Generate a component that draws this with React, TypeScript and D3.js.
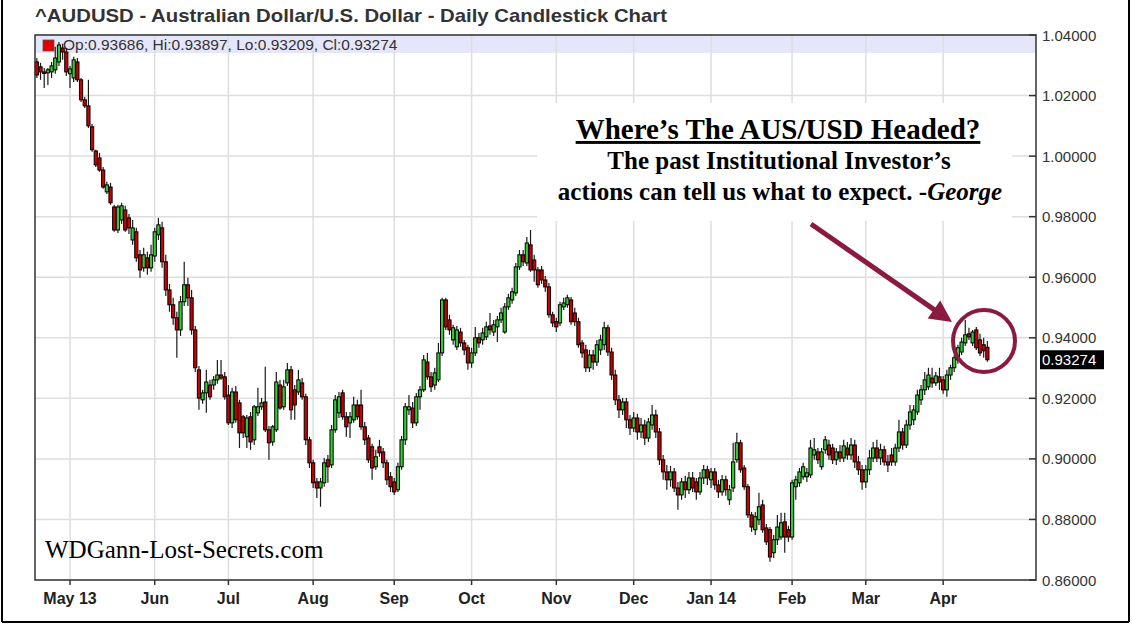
import React from "react";
import * as d3 from "d3";

const chartTitle = "^AUDUSD - Australian Dollar/U.S. Dollar - Daily Candlestick Chart";
const startDate = [2013, 3, 18]; // first trading day shown (UTC y, m0, d)
const holidays = ["2013-12-25", "2014-01-01"];
const yTicks = [0.86, 0.88, 0.9, 0.92, 0.94, 0.96, 0.98, 1.0, 1.02, 1.04];
const noteTitle = "Where’s The AUS/USD Headed?";
const noteLine2 = "The past Institutional Investor’s";
const noteLine3a = "actions can tell us what to expect. -";
const noteLine3b = "George";
const watermark = "WDGann-Lost-Secrets.com";

// [open, high, low, close]
const ohlc: [number, number, number, number][] = [
  [1.0311,1.0324,1.0258,1.0268],[1.0295,1.0308,1.0252,1.0278],[1.0278,1.0291,1.0225,1.0275],
  [1.0275,1.0291,1.0235,1.0285],[1.0278,1.0311,1.0258,1.0298],[1.0285,1.0361,1.0272,1.0324],
  [1.0311,1.0377,1.0298,1.0367],[1.0357,1.0371,1.0318,1.0344],[1.0344,1.0357,1.0265,1.0278],
  [1.0272,1.0298,1.0225,1.0288],[1.0258,1.0328,1.0245,1.0318],[1.0311,1.0324,1.0245,1.0252],
  [1.0252,1.0258,1.0179,1.0186],[1.0186,1.0196,1.0159,1.0166],[1.0166,1.0252,1.0093,1.0100],
  [1.0097,1.0106,1.0014,1.0021],[1.0017,1.0021,0.9964,0.9971],[0.9994,1.0011,0.9948,0.9954],
  [0.9954,0.9964,0.9892,0.9898],[0.9882,0.9915,0.9875,0.9905],[0.9898,0.9912,0.9839,0.9846],
  [0.9832,0.9839,0.9750,0.9756],[0.9756,0.9839,0.9746,0.9832],[0.9789,0.9846,0.9776,0.9836],
  [0.9822,0.9836,0.9750,0.9756],[0.9796,0.9809,0.9743,0.9763],
  [0.9723,0.9789,0.9707,0.9763],[0.9750,0.9763,0.9651,0.9664],[0.9674,0.9690,0.9598,0.9624],
  [0.9631,0.9697,0.9618,0.9674],[0.9664,0.9684,0.9608,0.9631],[0.9631,0.9707,0.9618,0.9674],
  [0.9670,0.9763,0.9651,0.9750],[0.9740,0.9796,0.9723,0.9773],[0.9763,0.9783,0.9631,0.9651],
  [0.9651,0.9674,0.9538,0.9558],[0.9558,0.9578,0.9486,0.9509],[0.9509,0.9532,0.9443,0.9466],
  [0.9466,0.9486,0.9334,0.9426],[0.9426,0.9538,0.9406,0.9519],[0.9519,0.9651,0.9505,0.9575],
  [0.9575,0.9598,0.9505,0.9532],[0.9532,0.9558,0.9410,0.9426],[0.9426,0.9439,0.9287,0.9301],
  [0.9294,0.9307,0.9162,0.9201],[0.9195,0.9228,0.9182,0.9218],[0.9218,0.9294,0.9152,0.9254],
  [0.9244,0.9261,0.9195,0.9205],[0.9244,0.9274,0.9228,0.9261],[0.9261,0.9327,0.9248,0.9277],
  [0.9277,0.9327,0.9261,0.9267],[0.9271,0.9287,0.9195,0.9205],[0.9211,0.9244,0.9112,0.9119],
  [0.9119,0.9235,0.9102,0.9221],[0.9221,0.9241,0.9119,0.9129],[0.9185,0.9195,0.9036,0.9086],
  [0.9139,0.9145,0.9069,0.9086],[0.9073,0.9145,0.9036,0.9135],[0.9139,0.9155,0.9030,0.9056],
  [0.9063,0.9178,0.9046,0.9172],[0.9152,0.9235,0.9142,0.9172],[0.9172,0.9201,0.9162,0.9185],
  [0.9188,0.9304,0.9089,0.9096],[0.9096,0.9109,0.8997,0.9053],[0.9056,0.9112,0.9043,0.9106],
  [0.9096,0.9287,0.9089,0.9254],[0.9244,0.9261,0.9162,0.9168],
  [0.9172,0.9261,0.9162,0.9238],[0.9251,0.9317,0.9241,0.9294],[0.9294,0.9307,0.9129,0.9162],
  [0.9228,0.9244,0.9129,0.9178],[0.9221,0.9294,0.9211,0.9261],[0.9251,0.9267,0.9195,0.9205],
  [0.9205,0.9215,0.9046,0.9063],[0.9063,0.9073,0.8970,0.8987],[0.8987,0.8997,0.8904,0.8921],
  [0.8924,0.8937,0.8871,0.8904],[0.8904,0.8937,0.8842,0.8924],[0.8921,0.9003,0.8908,0.8987],
  [0.8997,0.9013,0.8921,0.8974],[0.8980,0.9112,0.8970,0.9096],[0.9096,0.9211,0.9086,0.9195],
  [0.9152,0.9221,0.9135,0.9205],[0.9218,0.9228,0.9129,0.9139],[0.9139,0.9155,0.9073,0.9106],
  [0.9119,0.9155,0.9069,0.9139],[0.9129,0.9205,0.9119,0.9178],[0.9178,0.9195,0.9129,0.9139],
  [0.9178,0.9228,0.9096,0.9106],[0.9106,0.9122,0.9046,0.9063],[0.9069,0.9079,0.8987,0.8997],
  [0.9040,0.9050,0.8931,0.8970],[0.8974,0.9030,0.8964,0.9007],[0.9040,0.9063,0.9007,0.9020],
  [0.9023,0.9036,0.8970,0.8987],[0.8987,0.8997,0.8914,0.8931],[0.8941,0.8957,0.8891,0.8908],
  [0.8924,0.8937,0.8881,0.8891],[0.8898,0.8987,0.8891,0.8974],[0.8974,0.9076,0.8964,0.9063],
  [0.9063,0.9185,0.9046,0.9172],[0.9162,0.9211,0.9145,0.9172],[0.9168,0.9188,0.9102,0.9119],
  [0.9119,0.9218,0.9109,0.9205],[0.9205,0.9241,0.9162,0.9228],[0.9228,0.9343,0.9221,0.9327],
  [0.9320,0.9350,0.9261,0.9271],[0.9271,0.9287,0.9221,0.9238],[0.9244,0.9301,0.9228,0.9284],
  [0.9261,0.9383,0.9254,0.9350],[0.9350,0.9532,0.9340,0.9525],[0.9525,0.9532,0.9426,0.9436],
  [0.9459,0.9476,0.9410,0.9426],[0.9393,0.9443,0.9377,0.9433],[0.9370,0.9439,0.9360,0.9426],
  [0.9419,0.9433,0.9370,0.9383],[0.9383,0.9393,0.9343,0.9360],[0.9367,0.9377,0.9294,0.9317],
  [0.9317,0.9367,0.9301,0.9350],[0.9350,0.9436,0.9340,0.9400],[0.9400,0.9416,0.9367,0.9383],
  [0.9393,0.9433,0.9377,0.9416],[0.9403,0.9453,0.9393,0.9436],[0.9439,0.9482,0.9410,0.9426],
  [0.9419,0.9459,0.9406,0.9443],[0.9436,0.9472,0.9386,0.9459],[0.9459,0.9499,0.9449,0.9482],
  [0.9419,0.9515,0.9413,0.9502],[0.9502,0.9545,0.9492,0.9532],[0.9525,0.9565,0.9512,0.9552],
  [0.9548,0.9647,0.9538,0.9634],[0.9634,0.9690,0.9624,0.9674],[0.9674,0.9690,0.9637,0.9651],
  [0.9647,0.9733,0.9637,0.9713],[0.9707,0.9756,0.9618,0.9624],[0.9657,0.9674,0.9585,0.9624],
  [0.9624,0.9634,0.9565,0.9575],[0.9624,0.9637,0.9578,0.9591],[0.9591,0.9604,0.9552,0.9568],
  [0.9568,0.9581,0.9466,0.9476],[0.9476,0.9486,0.9436,0.9449],[0.9453,0.9466,0.9419,0.9436],
  [0.9449,0.9519,0.9439,0.9509],[0.9502,0.9532,0.9492,0.9515],[0.9509,0.9542,0.9499,0.9532],
  [0.9525,0.9535,0.9443,0.9453],[0.9482,0.9499,0.9439,0.9453],[0.9453,0.9466,0.9367,0.9377],
  [0.9383,0.9393,0.9334,0.9350],
  [0.9360,0.9377,0.9287,0.9301],[0.9301,0.9360,0.9287,0.9343],[0.9343,0.9360,0.9294,0.9320],
  [0.9320,0.9393,0.9307,0.9377],[0.9360,0.9410,0.9343,0.9393],[0.9377,0.9453,0.9360,0.9433],
  [0.9433,0.9443,0.9340,0.9353],[0.9353,0.9367,0.9261,0.9277],[0.9277,0.9294,0.9178,0.9195],
  [0.9195,0.9211,0.9135,0.9162],[0.9162,0.9201,0.9145,0.9188],[0.9188,0.9201,0.9102,0.9129],
  [0.9129,0.9145,0.9079,0.9102],[0.9102,0.9155,0.9089,0.9135],[0.9135,0.9149,0.9063,0.9089],
  [0.9089,0.9135,0.9069,0.9112],[0.9112,0.9129,0.9046,0.9069],[0.9069,0.9135,0.9056,0.9122],
  [0.9112,0.9178,0.9096,0.9145],[0.9145,0.9162,0.9069,0.9089],[0.9089,0.9102,0.8980,0.8997],
  [0.8997,0.9013,0.8931,0.8957],[0.8957,0.8980,0.8898,0.8931],[0.8931,0.8977,0.8908,0.8957],
  [0.8957,0.8970,0.8891,0.8904],[0.8904,0.8924,0.8832,0.8881],[0.8881,0.8937,0.8865,0.8924],
  [0.8924,0.8944,0.8871,0.8898],[0.8898,0.8957,0.8884,0.8937],[0.8937,0.8957,0.8891,0.8904],
  [0.8924,0.8937,0.8865,0.8891],[0.8891,0.8957,0.8881,0.8937],[0.8937,0.8980,0.8917,0.8964],
  [0.8964,0.8977,0.8914,0.8937],[0.8931,0.8970,0.8904,0.8957],[0.8957,0.8970,0.8898,0.8914],
  [0.8914,0.8931,0.8871,0.8891],[0.8891,0.8947,0.8878,0.8931],[0.8931,0.8944,0.8878,0.8898],
  [0.8865,0.8914,0.8848,0.8898],[0.8904,0.9053,0.8891,0.8990],[0.8997,0.9086,0.8987,0.9053],
  [0.9053,0.9063,0.8954,0.8964],[0.8970,0.8980,0.8898,0.8908],[0.8908,0.8917,0.8805,0.8815],
  [0.8815,0.8825,0.8759,0.8775],[0.8766,0.8825,0.8749,0.8809],[0.8799,0.8888,0.8782,0.8842],
  [0.8848,0.8865,0.8756,0.8766],[0.8772,0.8785,0.8716,0.8726],[0.8766,0.8775,0.8660,0.8676],
  [0.8690,0.8749,0.8673,0.8733],[0.8733,0.8815,0.8716,0.8775],[0.8742,0.8822,0.8733,0.8789],
  [0.8792,0.8822,0.8690,0.8742],[0.8766,0.8779,0.8726,0.8742],[0.8742,0.8931,0.8733,0.8921],
  [0.8908,0.8944,0.8865,0.8931],[0.8921,0.8970,0.8908,0.8957],[0.8941,0.8987,0.8931,0.8974],
  [0.8941,0.8970,0.8924,0.8954],[0.8947,0.9063,0.8937,0.9036],[0.9013,0.9069,0.8997,0.9030],
  [0.9023,0.9036,0.8983,0.8997],[0.8974,0.9036,0.8964,0.9023],[0.9030,0.9076,0.9017,0.9063],
  [0.9046,0.9063,0.8997,0.9013],[0.9036,0.9050,0.8983,0.8997],
  [0.8997,0.9036,0.8980,0.9023],[0.9023,0.9046,0.8990,0.9003],[0.9003,0.9063,0.8990,0.9043],
  [0.9036,0.9056,0.8997,0.9013],[0.9013,0.9069,0.8997,0.9046],[0.9046,0.9063,0.8970,0.8990],
  [0.8990,0.9010,0.8947,0.8964],[0.8964,0.8980,0.8898,0.8924],[0.8924,0.8980,0.8904,0.8964],
  [0.8964,0.9030,0.8947,0.9003],[0.9003,0.9056,0.8990,0.9036],[0.9036,0.9063,0.8990,0.9003],
  [0.9003,0.9050,0.8980,0.9030],[0.9030,0.9043,0.8977,0.8990],[0.8990,0.9013,0.8957,0.8980],
  [0.9013,0.9036,0.8977,0.8990],[0.8990,0.9050,0.8977,0.9036],[0.9036,0.9129,0.9023,0.9089],
  [0.9089,0.9102,0.9030,0.9046],[0.9046,0.9129,0.9036,0.9112],[0.9112,0.9178,0.9096,0.9155],
  [0.9129,0.9178,0.9112,0.9162],
  [0.9155,0.9228,0.9145,0.9211],[0.9195,0.9244,0.9178,0.9228],[0.9228,0.9287,0.9211,0.9261],
  [0.9238,0.9301,0.9228,0.9277],[0.9267,0.9301,0.9235,0.9251],[0.9251,0.9287,0.9241,0.9274],
  [0.9271,0.9301,0.9228,0.9254],[0.9261,0.9274,0.9215,0.9228],[0.9228,0.9294,0.9205,0.9277],
  [0.9277,0.9311,0.9261,0.9301],[0.9301,0.9343,0.9287,0.9334],[0.9327,0.9377,0.9314,0.9367],
  [0.9353,0.9400,0.9343,0.9386],[0.9383,0.9459,0.9373,0.9410],[0.9413,0.9433,0.9393,0.9403],
  [0.9383,0.9426,0.9373,0.9419],[0.9426,0.9436,0.9360,0.9367],[0.9393,0.9413,0.9340,0.9350],
  [0.9377,0.9400,0.9334,0.9357],[0.93686,0.93897,0.93209,0.93274],
];

function tradingDays(n: number): Date[] {
  const out: Date[] = [];
  const d = new Date(Date.UTC(startDate[0], startDate[1], startDate[2]));
  while (out.length < n) {
    const dow = d.getUTCDay();
    const iso = d.toISOString().slice(0, 10);
    if (dow !== 0 && dow !== 6 && !holidays.includes(iso)) out.push(new Date(d.getTime()));
    d.setUTCDate(d.getUTCDate() + 1);
  }
  return out;
}

const SANS = "'Liberation Sans', Arial, Helvetica, sans-serif";
const SERIF = "'Liberation Serif', 'Times New Roman', serif";
const MAROON = "#8a1a40";

export default function App() {
  const W = 1132, H = 625;
  const left = 35, right = 1036, top = 35, bottom = 580;
  const dates = tradingDays(ohlc.length);
  const x = d3.scaleLinear().domain([-0.5, 271.2]).range([left, right]);
  const y = d3.scaleLinear().domain([0.86, 1.04]).range([bottom, top]);

  const fmtMon = d3.utcFormat("%b");
  const fmtYr = d3.utcFormat("%y");
  const monthTicks: { i: number; label: string }[] = [];
  dates.forEach((d, i) => {
    if (i > 0 && d.getUTCMonth() !== dates[i - 1].getUTCMonth()) {
      const first = monthTicks.length === 0 || d.getUTCMonth() === 0;
      monthTicks.push({ i, label: fmtMon(d) + (first ? " " + fmtYr(d) : "") });
    }
  });

  const last = ohlc[ohlc.length - 1];
  const legendText = `Op:${last[0].toFixed(5)}, Hi:${last[1].toFixed(5)}, Lo:${last[2].toFixed(5)}, Cl:${last[3].toFixed(5)}`;

  // arrow geometry
  const a0 = [811, 224], a1 = [952, 322];
  const dx = a1[0] - a0[0], dy = a1[1] - a0[1];
  const len = Math.hypot(dx, dy);
  const ux = dx / len, uy = dy / len;
  const hl = 22, hw = 11;
  const bx = a1[0] - ux * hl, by = a1[1] - uy * hl;
  const head = `${a1[0]},${a1[1]} ${bx - uy * hw},${by + ux * hw} ${bx + uy * hw},${by - ux * hw}`;

  const bodyW = 3.2;

  return (
    <svg width={W} height={H} style={{ position: "absolute", left: 0, top: 0, background: "#fff" }}>
      <rect x={0} y={0} width={W} height={H} fill="#fff" />
      {/* outer frame */}
      <line x1={2} y1={0} x2={2} y2={622} stroke="#000" strokeWidth={2} />
      <line x1={1129} y1={0} x2={1129} y2={622} stroke="#000" strokeWidth={2} />
      <line x1={2} y1={622} x2={1129} y2={622} stroke="#000" strokeWidth={2} />

      <text x={35} y={22} fontFamily={SANS} fontWeight="bold" fontSize={18.5} fill="#333"
        textLength={632} lengthAdjust="spacingAndGlyphs">{chartTitle}</text>

      {/* legend band */}
      <rect x={left} y={top} width={right - left} height={18} fill="#e6e6fa" />

      {/* grid */}
      {yTicks.map((t) => (
        <line key={"gy" + t} x1={left} x2={right} y1={y(t)} y2={y(t)} stroke="#dedede" strokeWidth={1.5} />
      ))}
      {monthTicks.map((m) => (
        <line key={"gx" + m.i} x1={x(m.i)} x2={x(m.i)} y1={top} y2={bottom} stroke="#dedede" strokeWidth={1.5} />
      ))}

      {/* annotation box */}
      <rect x={537} y={103} width={475} height={118} fill="#fff" />

      {/* legend */}
      <rect x={43} y={40} width={11} height={11} fill="#e00000" stroke="#555" strokeWidth={0.8} />
      <text x={63} y={50} fontFamily={SANS} fontSize={15.5} fill="#333">{legendText}</text>

      {/* candles */}
      {ohlc.map((c, i) => {
        const [o, h, l, cl] = c;
        const up = cl >= o;
        const cx = x(i);
        const yt = y(Math.max(o, cl));
        const yb = y(Math.min(o, cl));
        return (
          <g key={"c" + i}>
            <line x1={cx} x2={cx} y1={y(h)} y2={y(l)} stroke="#1a1a1a" strokeWidth={1.2} />
            <rect x={cx - bodyW / 2} y={yt} width={bodyW} height={Math.max(1.5, yb - yt)}
              fill={up ? "#33cc33" : "#c80000"} stroke="#000" strokeWidth={1} />
          </g>
        );
      })}

      {/* plot frame */}
      <rect x={left} y={top} width={right - left} height={bottom - top} fill="none" stroke="#333" strokeWidth={1.5} />
      {yTicks.map((t) => (
        <g key={"yt" + t}>
          <line x1={right - 7} x2={right} y1={y(t)} y2={y(t)} stroke="#333" strokeWidth={1.5} />
          <text x={1042} y={y(t) + 5.5} fontFamily={SANS} fontSize={15} fill="#333">{t.toFixed(5)}</text>
        </g>
      ))}
      {monthTicks.map((m) => (
        <g key={"xt" + m.i}>
          <line x1={x(m.i)} x2={x(m.i)} y1={bottom} y2={bottom + 5} stroke="#333" strokeWidth={1.5} />
          <text x={x(m.i)} y={604} textAnchor="middle" fontFamily={SANS} fontWeight="bold" fontSize={16} fill="#222">{m.label}</text>
        </g>
      ))}

      {/* current price tag */}
      <rect x={1040} y={y(last[3]) - 9.5} width={64} height={19} fill="#000" />
      <text x={1042} y={y(last[3]) + 5.5} fontFamily={SANS} fontSize={15} fill="#fff">{last[3].toFixed(5)}</text>

      {/* annotation */}
      <text x={778} y={139} textAnchor="middle" fontFamily={SERIF} fontWeight="bold" fontSize={29}
        fill="#000" textDecoration="underline">{noteTitle}</text>
      <text x={779} y={169} textAnchor="middle" fontFamily={SERIF} fontWeight="bold" fontSize={25} fill="#000">{noteLine2}</text>
      <text x={780} y={200} textAnchor="middle" fontFamily={SERIF} fontWeight="bold" fontSize={25} fill="#000">
        {noteLine3a}<tspan fontStyle="italic">{noteLine3b}</tspan>
      </text>

      <line x1={a0[0]} y1={a0[1]} x2={bx + ux * 2} y2={by + uy * 2} stroke={MAROON} strokeWidth={5} />
      <polygon points={head} fill={MAROON} />
      <ellipse cx={984} cy={341} rx={31} ry={31} fill="none" stroke={MAROON} strokeWidth={4} />

      <text x={45} y={558} fontFamily={SERIF} fontSize={25} fill="#000">{watermark}</text>
    </svg>
  );
}
